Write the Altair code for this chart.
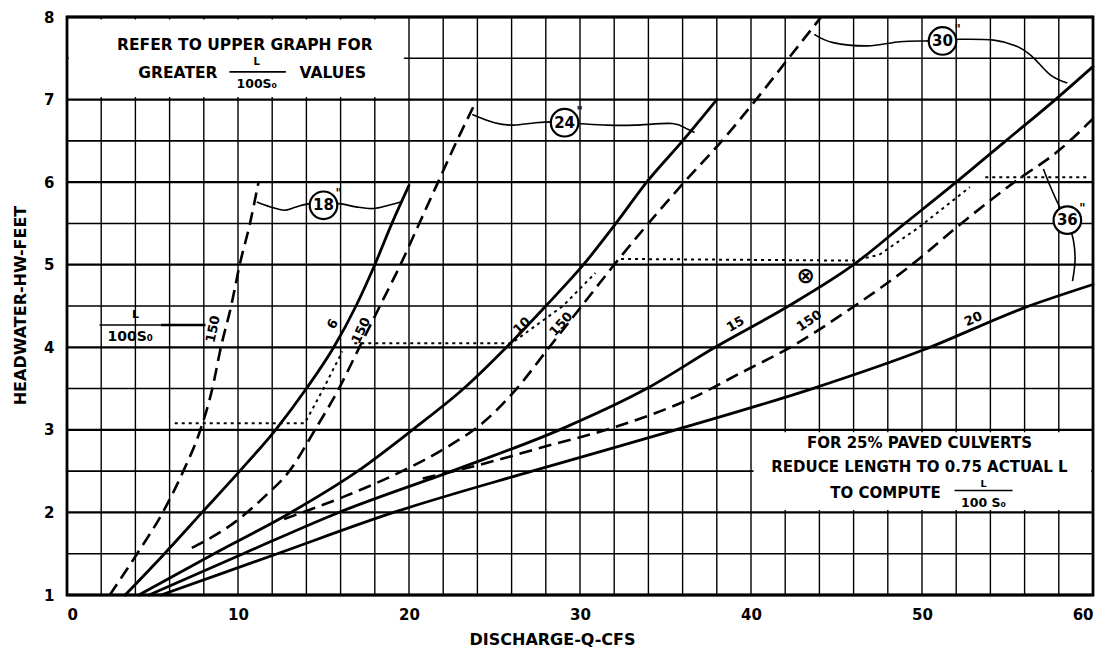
import altair as alt
import pandas as pd

# ---------------- data ----------------
# 18" pipe, L/100So = 150 (dashed) and 6 (solid)
D18_X = [2.5, 4.1, 5.6, 6.8, 7.8, 8.5, 9.0, 9.6, 10.1, 10.7, 11.2]
D18_Y = [1.0, 1.5, 2.0, 2.5, 3.0, 3.5, 4.0, 4.5, 5.0, 5.5, 6.0]
S18_X = [3.4, 5.7, 7.9, 10.1, 12.2, 14.0, 15.6, 16.9, 18.0, 19.0, 20.0]
S18_Y = [1.0, 1.5, 2.0, 2.5, 3.0, 3.5, 4.0, 4.5, 5.0, 5.5, 5.96]
# 24" pipe, 150 (dashed) and 10 (solid)
D24_X = [7.3, 9.8, 11.6, 13.0, 14.5, 15.9, 17.1, 18.3, 19.5, 20.6, 21.7, 22.8, 23.9]
D24_Y = [1.57, 1.88, 2.2, 2.5, 3.0, 3.5, 4.0, 4.5, 5.0, 5.5, 6.0, 6.5, 6.97]
S24_X = [4.2, 8.6, 13.1, 17.0, 20.2, 23.2, 25.7, 28.0, 30.2, 32.1, 33.9, 36.0, 38.0]
S24_Y = [1.0, 1.5, 2.0, 2.5, 3.0, 3.5, 4.0, 4.5, 5.0, 5.5, 6.0, 6.5, 7.0]
# 30" pipe, 150 (dashed) and 15 (solid)
D30_X = [12.7, 16.3, 19.6, 22.3, 24.4, 26.3, 28.2, 30.1, 32.0, 34.0, 36.1, 38.3, 40.3, 42.2, 44.1]
D30_Y = [1.92, 2.2, 2.5, 2.8, 3.1, 3.5, 4.0, 4.5, 5.0, 5.5, 6.0, 6.5, 7.0, 7.5, 8.0]
S30_X = [4.8, 10.3, 15.9, 22.5, 28.8, 33.9, 37.9, 42.2, 46.0, 49.0, 52.0, 54.9, 57.8, 60.0]
S30_Y = [1.0, 1.5, 2.0, 2.5, 3.0, 3.5, 4.0, 4.5, 5.0, 5.5, 6.0, 6.5, 7.0, 7.4]
# 36" pipe, 150 (dashed) and 20 (solid)
D36_X = [20.8, 24.0, 28.0, 32.0, 36.7, 39.5, 42.3, 45.7, 49.4, 52.3, 55.4, 58.1, 60.0]
D36_Y = [2.41, 2.57, 2.8, 3.03, 3.4, 3.7, 4.0, 4.45, 5.0, 5.5, 6.0, 6.4, 6.77]
S36_X = [5.5, 12.3, 19.1, 27.2, 35.6, 43.6, 50.1, 56.0, 60.0]
S36_Y = [1.0, 1.5, 2.0, 2.5, 3.0, 3.5, 3.97, 4.48, 4.76]

# dotted transition lines
DOT18_X = [6.3, 13.9, 15.0, 16.1]
DOT18_Y = [3.08, 3.08, 3.5, 3.95]
DOT24_X = [16.8, 26.0, 29.0, 30.9]
DOT24_Y = [4.05, 4.05, 4.5, 4.9]
DOT30_X = [32.4, 46.0, 47.5, 49.8, 52.8]
DOT30_Y = [5.07, 5.05, 5.12, 5.45, 5.94]
DOT36_X = [53.7, 59.8]
DOT36_Y = [6.06, 6.06]

# pipe-size brackets (wavy leaders)
B18_X = [11.1, 11.9, 12.7, 13.4, 14.2, 15.0, 15.9, 16.9, 17.9, 18.8, 19.5]
B18_Y = [5.76, 5.70, 5.66, 5.70, 5.74, 5.72, 5.74, 5.70, 5.68, 5.72, 5.76]
B24_X = [23.7, 25.0, 26.1, 27.4, 28.4, 29.1, 29.9, 31.6, 33.2, 35.4, 36.3, 36.7]
B24_Y = [6.82, 6.72, 6.69, 6.72, 6.73, 6.72, 6.71, 6.69, 6.69, 6.71, 6.64, 6.60]
B30_X = [43.7, 44.8, 46.8, 48.7, 50.2, 51.2, 52.2, 54.2, 55.5, 56.4, 57.5, 58.5]
B30_Y = [7.79, 7.69, 7.65, 7.70, 7.71, 7.71, 7.73, 7.72, 7.65, 7.53, 7.30, 7.20]
B36_X = [57.1, 57.5, 58.0, 58.5, 58.85, 58.95, 58.8]
B36_Y = [6.16, 5.95, 5.72, 5.54, 5.30, 5.05, 4.80]

PIPE_LABELS = ["18", "24", "30", "36"]
PIPE_X = [15.0, 29.1, 51.2, 58.5]
PIPE_Y = [5.72, 6.72, 7.71, 5.54]

CURVE_LABELS = ["150", "6", "150", "10", "150", "15", "150", "20"]
CURVE_LX = [8.55, 15.55, 17.2, 26.6, 28.9, 39.1, 43.4, 53.0]
CURVE_LY = [4.22, 4.28, 4.2, 4.26, 4.28, 4.28, 4.32, 4.34]
CURVE_ANG = [282, 300, 295, 316, 312, 330, 326, 336]

X_TICKS = [0, 10, 20, 30, 40, 50, 60]
Y_TICKS = [1, 2, 3, 4, 5, 6, 7, 8]
X_GRID = list(range(0, 62, 2))
Y_GRID = [v / 2 for v in range(2, 17)]

FONT = "DejaVu Sans"

# ---------------- helpers ----------------
XS = alt.Scale(domain=[0, 60], nice=False, zero=False)
YS = alt.Scale(domain=[1, 8], nice=False, zero=False)

AX_X = alt.Axis(
    values=X_TICKS, grid=False, ticks=False, domain=False,
    labelFont=FONT, labelFontWeight="bold", labelFontSize=15,
    labelColor="black", labelPadding=12,
    title="DISCHARGE-Q-CFS", titleFont=FONT, titleFontWeight="bold",
    titleFontSize=16, titleColor="black", titleX=485, titleY=44,
    titleAlign="center", titleBaseline="middle",
)
AX_Y = alt.Axis(
    values=Y_TICKS, grid=False, ticks=False, domain=False,
    labelFont=FONT, labelFontWeight="bold", labelFontSize=15,
    labelColor="black", labelPadding=13,
    title="HEADWATER-HW-FEET", titleFont=FONT, titleFontWeight="bold",
    titleFontSize=16, titleColor="black", titleX=-47, titleY=288,
    titleAngle=270, titleAlign="center", titleBaseline="middle",
)


def frame(groups):
    rows = []
    for name, xs, ys in groups:
        for i, (a, b) in enumerate(zip(xs, ys)):
            rows.append({"q": a, "hw": b, "curve": name, "i": i})
    return pd.DataFrame(rows)


def xenc(field="q"):
    return alt.X(f"{field}:Q", scale=XS, axis=AX_X)


def yenc(field="hw"):
    return alt.Y(f"{field}:Q", scale=YS, axis=AX_Y)


# ---------------- grid ----------------
vgrid = alt.Chart(pd.DataFrame({"q": X_GRID})).mark_rule(
    color="black", strokeWidth=1.4
).encode(x=xenc())

hg = pd.DataFrame({"hw": Y_GRID})
hg["w"] = [2.3 if v == int(v) else 1.6 for v in Y_GRID]
hgrid = alt.Chart(hg).mark_rule(color="black").encode(
    y=yenc(),
    strokeWidth=alt.StrokeWidth("w:Q", scale=None, legend=None),
)

# white note boxes (cover grid)
boxes = pd.DataFrame({
    "x1": [0.1, 40.15], "x2": [19.7, 59.9],
    "y1": [7.03, 2.03], "y2": [7.97, 2.97],
})
box_layer = alt.Chart(boxes).mark_rect(fill="white", stroke=None).encode(
    x=xenc("x1"), x2="x2:Q", y=yenc("y1"), y2="y2:Q"
)

border = alt.Chart(pd.DataFrame({"x1": [0], "x2": [60], "y1": [1], "y2": [8]})).mark_rect(
    fill=None, stroke="black", strokeWidth=2.8
).encode(x=xenc("x1"), x2="x2:Q", y=yenc("y1"), y2="y2:Q")

# ---------------- curves ----------------
solid_df = frame([("S18", S18_X, S18_Y), ("S24", S24_X, S24_Y),
                  ("S30", S30_X, S30_Y), ("S36", S36_X, S36_Y)])
dashed_df = frame([("D18", D18_X, D18_Y), ("D24", D24_X, D24_Y),
                   ("D30", D30_X, D30_Y), ("D36", D36_X, D36_Y)])
dotted_df = frame([("T18", DOT18_X, DOT18_Y), ("T24", DOT24_X, DOT24_Y),
                   ("T30", DOT30_X, DOT30_Y), ("T36", DOT36_X, DOT36_Y)])
bracket_df = frame([("B18", B18_X, B18_Y), ("B24", B24_X, B24_Y),
                    ("B30", B30_X, B30_Y), ("B36", B36_X, B36_Y)])

solid = alt.Chart(solid_df).mark_line(
    color="black", strokeWidth=2.8, interpolate="monotone", strokeCap="round"
).encode(x=xenc(), y=yenc(), detail="curve:N")

dashed = alt.Chart(dashed_df).mark_line(
    color="black", strokeWidth=2.6, interpolate="monotone", strokeDash=[13, 7]
).encode(x=xenc(), y=yenc(), detail="curve:N")

dotted = alt.Chart(dotted_df).mark_line(
    color="black", strokeWidth=2.0, strokeDash=[3, 4]
).encode(x=xenc(), y=yenc(), detail="curve:N", order="i:Q")

brackets = alt.Chart(bracket_df).mark_line(
    color="black", strokeWidth=1.6, interpolate="cardinal"
).encode(x=xenc(), y=yenc(), detail="curve:N", order="i:Q")

pipes = pd.DataFrame({"q": PIPE_X, "hw": PIPE_Y, "t": PIPE_LABELS})
pipe_circles = alt.Chart(pipes).mark_point(
    shape="circle", filled=True, fill="white", stroke="black",
    strokeWidth=2.2, size=760, opacity=1
).encode(x=xenc(), y=yenc())
pipe_marks = alt.Chart(pipes).mark_text(
    text='"', font=FONT, fontWeight="bold", fontSize=12, dx=15, dy=-12, color="black"
).encode(x=xenc(), y=yenc())
pipe_text = alt.Chart(pipes).mark_text(
    font=FONT, fontWeight="bold", fontSize=15, color="black", baseline="middle"
).encode(x=xenc(), y=yenc(), text="t:N")

clab = pd.DataFrame({"q": CURVE_LX, "hw": CURVE_LY, "t": CURVE_LABELS, "a": CURVE_ANG})
curve_text = alt.Chart(clab).mark_text(
    font=FONT, fontWeight="bold", fontSize=13, color="black", baseline="middle"
).encode(x=xenc(), y=yenc(), text="t:N", angle=alt.Angle("a:Q", scale=None))

# ---------------- annotations ----------------
notes = pd.DataFrame([
    {"q": 10.4, "hw": 7.66, "t": "REFER TO UPPER GRAPH FOR", "al": "center", "s": 15.5},
    {"q": 8.8, "hw": 7.32, "t": "GREATER", "al": "right", "s": 15.5},
    {"q": 11.1, "hw": 7.45, "t": "L", "al": "center", "s": 10},
    {"q": 11.1, "hw": 7.19, "t": "100S\u2080", "al": "center", "s": 12.5},
    {"q": 13.6, "hw": 7.32, "t": "VALUES", "al": "left", "s": 15.5},
    {"q": 49.85, "hw": 2.84, "t": "FOR 25% PAVED CULVERTS", "al": "center", "s": 15},
    {"q": 49.85, "hw": 2.55, "t": "REDUCE LENGTH TO 0.75 ACTUAL L", "al": "center", "s": 15},
    {"q": 51.1, "hw": 2.23, "t": "TO COMPUTE", "al": "right", "s": 15},
    {"q": 53.6, "hw": 2.345, "t": "L", "al": "center", "s": 9.5},
    {"q": 53.6, "hw": 2.12, "t": "100 S\u2080", "al": "center", "s": 12.5},
    {"q": 4.0, "hw": 4.39, "t": "L", "al": "center", "s": 11},
    {"q": 3.7, "hw": 4.12, "t": "100S\u2080", "al": "center", "s": 14},
    {"q": 43.2, "hw": 4.86, "t": "\u2297", "al": "center", "s": 22},
])
note_layers = []
for al in ["left", "center", "right"]:
    sub = notes[notes["al"] == al]
    note_layers.append(
        alt.Chart(sub).mark_text(
            font=FONT, fontWeight="bold", color="black", align=al, baseline="middle"
        ).encode(
            x=xenc(), y=yenc(), text="t:N",
            size=alt.Size("s:Q", scale=None, legend=None),
        )
    )

bars = pd.DataFrame({
    "x1": [9.5, 51.9, 1.9, 5.5], "x2": [12.8, 55.3, 5.5, 8.1],
    "y": [7.335, 2.265, 4.27, 4.27], "w": [1.6, 1.6, 1.6, 2.6],
})
bar_layer = alt.Chart(bars).mark_rule(color="black").encode(
    x=xenc("x1"), x2="x2:Q", y=yenc("y"),
    strokeWidth=alt.StrokeWidth("w:Q", scale=None, legend=None),
)

chart = alt.layer(
    vgrid, hgrid, box_layer, border, dotted, solid, dashed, brackets,
    pipe_circles, pipe_text, pipe_marks, curve_text, bar_layer, *note_layers
).properties(
    width=1026, height=578,
    autosize=alt.AutoSizeParams(type="none"),
    padding={"left": 59, "top": 9, "right": 15, "bottom": 58},
    background="white",
).configure_view(stroke=None)

chart.save("out.html", embed_options={"renderer": "svg", "actions": False})
